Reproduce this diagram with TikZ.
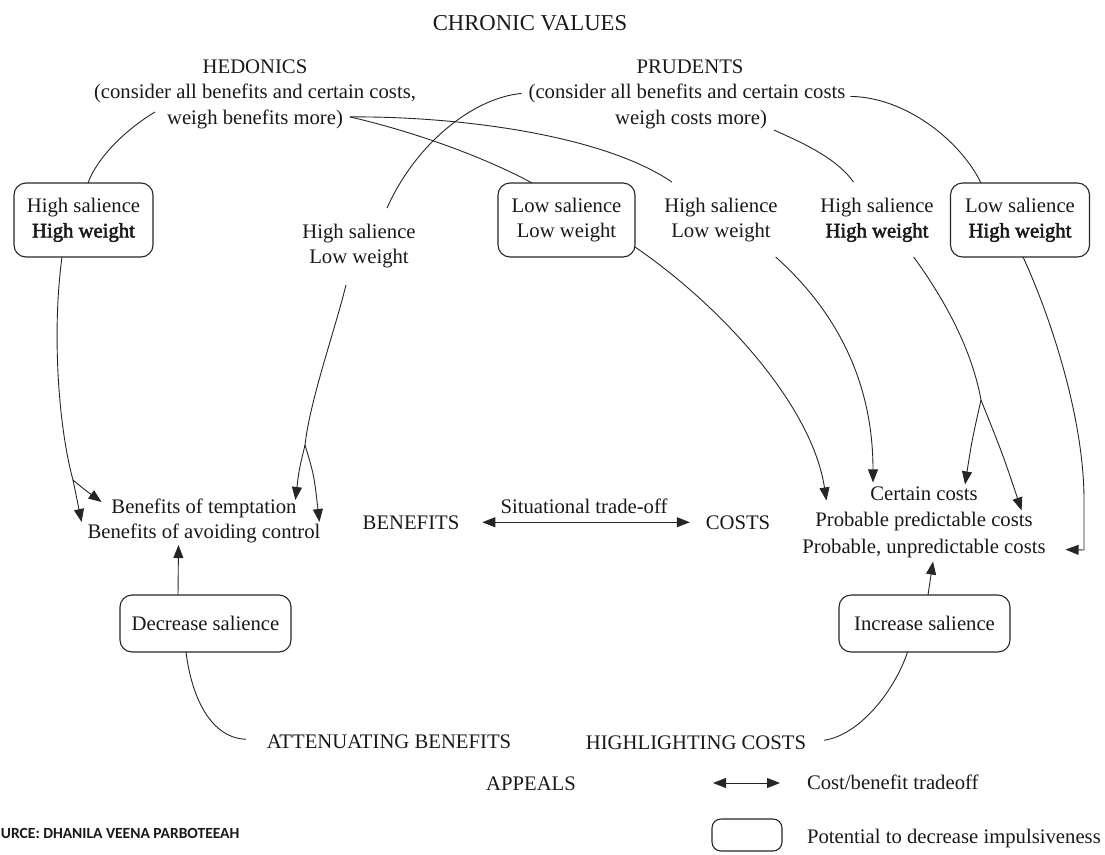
\documentclass[tikz,border=0pt]{standalone}
\usepackage{fontspec}
\setmainfont{Liberation Serif}
\newfontfamily\heavyserif{Liberation Serif}[FakeBold=2.2]
\newfontfamily\srcfont{Carlito}
\usetikzlibrary{arrows.meta}

\begin{document}
\begin{tikzpicture}[x=1pt,y=-1pt,
  every node/.style={inner sep=0pt, outer sep=0pt, text=black!90,
    font=\fontsize{20.7}{25}\selectfont},
  lbl/.style={anchor=base},
  cbox/.style={draw=black!85, line width=1.1pt, rounded corners=12pt, align=center},
  link/.style={draw=black!85, line width=0.9pt},
  tip/.style={link, -{Triangle[length=13pt,width=10pt]}},
  dbl/.style={link, {Triangle[length=13pt,width=10pt]}-{Triangle[length=13pt,width=10pt]}},
]
\useasboundingbox (0,0) rectangle (1105,854);

% headings
\node[lbl, font=\fontsize{22.7}{27}\selectfont] (chronic) at (530,30) {CHRONIC VALUES};
\node[lbl] (hed)  at (255,73)   {HEDONICS};
\node[lbl] (hedA) at (255,98.5) {(consider all benefits and certain costs,};
\node[lbl] (hedB) at (255,124)  {weigh benefits more)};
\node[lbl] (pru)  at (690,73)   {PRUDENTS};
\node[lbl] (pruA) at (687,98.5) {(consider all benefits and certain costs};
\node[lbl] (pruB) at (691,124)  {weigh costs more)};

% salience / weight row
\node[cbox, minimum width=139pt, minimum height=74pt] (b1) at (83.5,220) {High salience\\{\heavyserif High weight}};
\node[align=center] (s1) at (359,246) {High salience\\Low weight};
\node[cbox, minimum width=137pt, minimum height=74pt] (b2) at (566.5,220) {Low salience\\Low weight};
\node[align=center] (s2) at (721,220) {High salience\\Low weight};
\node[align=center] (s3) at (877,220) {High salience\\{\heavyserif High weight}};
\node[cbox, minimum width=139pt, minimum height=74pt] (b3) at (1020,220) {Low salience\\{\heavyserif High weight}};

% benefits / costs row
\node[align=center] (ben) at (204,521) {Benefits of temptation\\Benefits of avoiding control};
\node[lbl] (BEN) at (411,529) {BENEFITS};
\node[lbl] (trade) at (584,513) {Situational trade-off};
\node[lbl] (COST) at (738,529) {COSTS};
\node[align=center, font=\fontsize{20.7}{26.5}\selectfont] (cst) at (924,522)
  {Certain costs\\Probable predictable costs\\Probable, unpredictable costs};

% appeals
\node[cbox, minimum width=171pt, minimum height=57pt] (dec) at (205.5,623.5) {Decrease salience};
\node[cbox, minimum width=171pt, minimum height=57pt] (inc) at (924.5,623.5) {Increase salience};
\node[lbl] (att) at (389,748) {ATTENUATING BENEFITS};
\node[lbl] (hig) at (696,749) {HIGHLIGHTING COSTS};
\node[lbl] (app) at (531,790) {APPEALS};

% legend
\coordinate (la) at (713,783);
\coordinate (lb) at (780,783);
\draw[dbl] (la) -- (lb);
\node[anchor=base west] (lt) at (807,789) {Cost/benefit tradeoff};
\node[cbox, minimum width=70pt, minimum height=32pt, rounded corners=9pt] (lbox) at (747,835) {};
\node[anchor=base west] (lp) at (807,843) {Potential to decrease impulsiveness};
\node[anchor=base west, font=\srcfont\bfseries\fontsize{15.5}{18}\selectfont] (src) at (1,838) {URCE: DHANILA VEENA PARBOTEEAH};

% branch points
\coordinate (j1) at (73,480);
\coordinate (j2) at (305,445);
\coordinate (j3) at (981,400);

% chronic values to salience/weight
\draw[link] ([shift={(-12,-7)}]hedB.west) .. controls (125,130) and (97,158) .. ([xshift=4.5pt]b1.north);
\draw[link] ([shift={(7,-2)}]hedB.east) .. controls (420,133) and (490,160) .. ([xshift=-34.5pt]b2.north);
\draw[link] ([shift={(7,-2)}]hedB.east) .. controls (450,116) and (600,133) .. ([shift={(-49,-16)}]s2.north);
\draw[link] ([xshift=-7pt]pruA.west) .. controls (472,98) and (415,145) .. ([shift={(28,-16)}]s1.north);
\draw[link] ([shift={(5,3)}]pruA.east) .. controls (905,97) and (960,140) .. ([xshift=-39pt]b3.north);
\draw[link] ([shift={(7,11)}]pruB.east) .. controls (808,145) and (838,160) .. ([shift={(-23.5,-16)}]s3.north);

% salience/weight to benefits
\draw[link] ([xshift=-21.5pt]b1.south) .. controls (52,330) and (58,425) .. (j1);
\draw[tip] (j1) .. controls (85,490) .. ([shift={(14,3)}]ben.north west);
\draw[tip] (j1) -- ([shift={(-6,1)}]ben.west);
\draw[link] ([shift={(-13,17)}]s1.south) .. controls (335,330) and (310,400) .. (j2);
\draw[tip] (j2) .. controls (299,470) .. ([shift={(-25,1)}]ben.north east);
\draw[tip] (j2) .. controls (314,475) .. ([shift={(-1,1)}]ben.east);

% salience/weight to costs
\draw[tip] ([yshift=-27pt]b2.east) .. controls (720,305) and (812,405) .. ([shift={(24,14)}]cst.north west);
\draw[tip] ([shift={(-2,15)}]s2.south east) .. controls (835,310) and (873,380) .. ([shift={(-51,-4)}]cst.north);
\draw[link] ([shift={(-20,15)}]s3.south east) .. controls (945,300) and (972,350) .. (j3);
\draw[tip] (j3) .. controls (972,440) .. ([shift={(41,-2)}]cst.north);
\draw[tip] (j3) .. controls (1003,455) .. ([shift={(-24,24)}]cst.north east);
\draw[tip] ([xshift=3pt]b3.south) .. controls (1052,320) and (1084,420) .. (1084,500)
  -- (1084,550) -- ([shift={(20,-8)}]cst.south east);

% trade-off
\draw[dbl] ([xshift=23pt]BEN.east) -- ([xshift=-16pt]COST.west);

% appeals
\draw[tip] ([xshift=-27.5pt]dec.north) -- ([shift={(-25.5,2)}]ben.south);
\draw[tip] ([xshift=3.5pt]inc.north) -- ([shift={(9,4)}]cst.south);
\draw[link] ([xshift=-19.5pt]dec.south) .. controls (192,700) and (212,738) .. ([shift={(-21,-2)}]att.west);
\draw[link] ([shift={(18,-2)}]hig.east) .. controls (860,735) and (895,690) .. ([xshift=-17pt]inc.south);
\end{tikzpicture}
\end{document}
